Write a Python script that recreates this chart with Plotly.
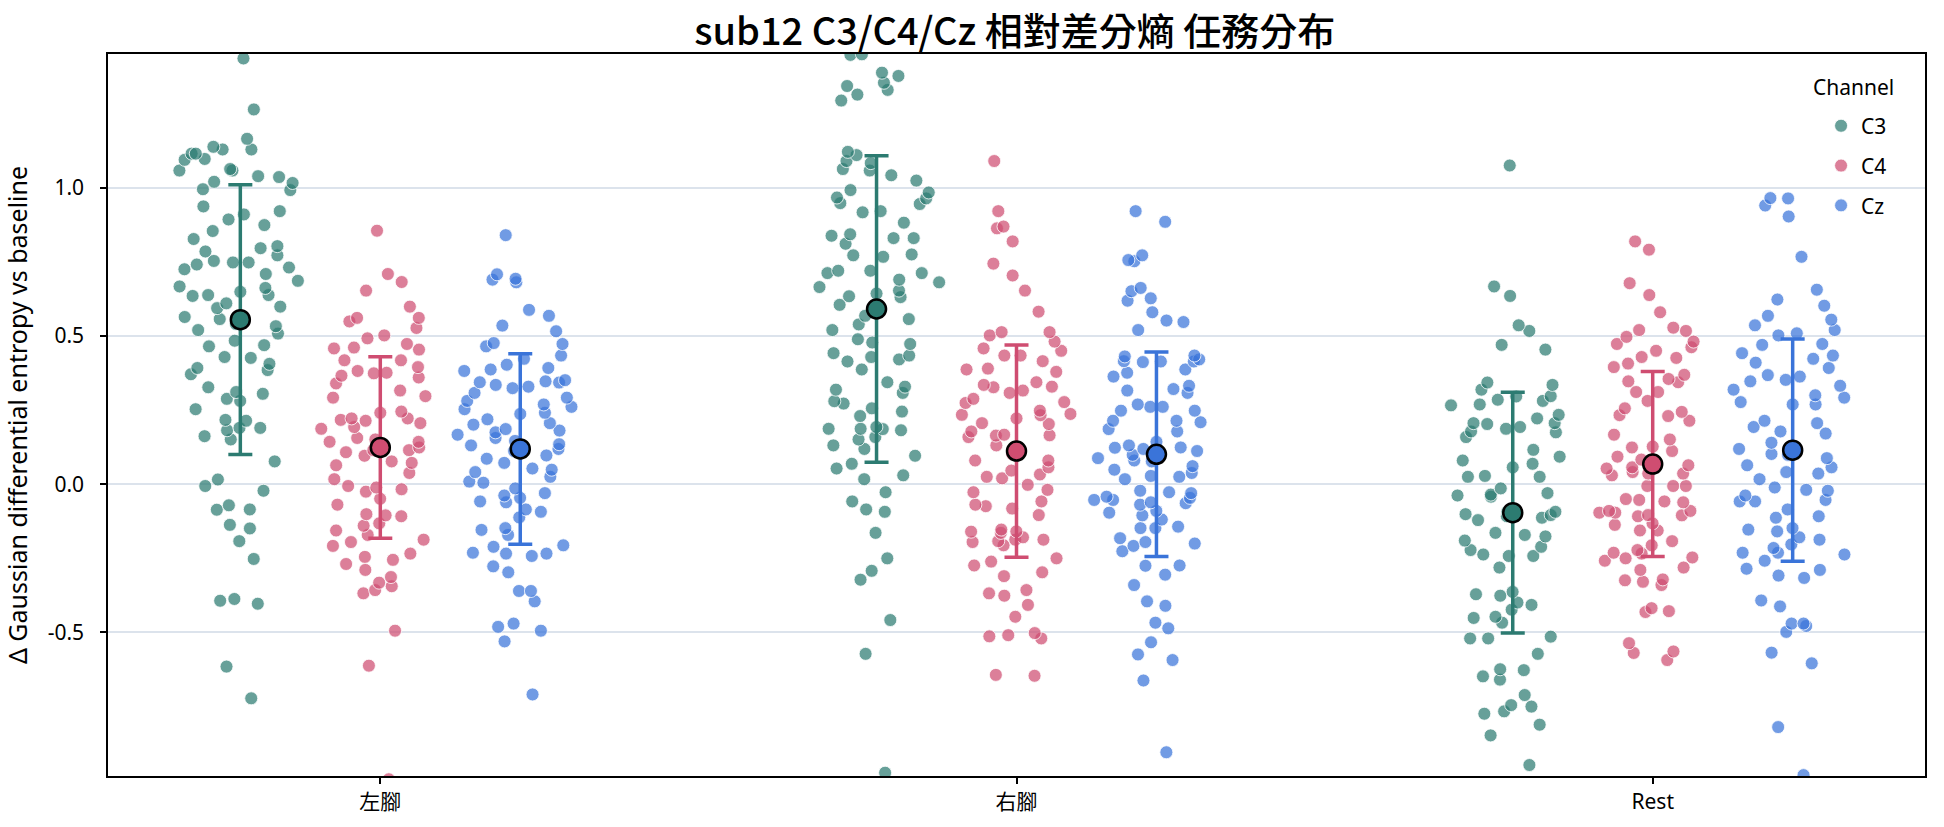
import plotly.graph_objects as go

categories = ["左腳", "右腳", "Rest"]
channels = ["C3", "C4", "Cz"]

c3_left = [1.436, 1.264, 1.165, 1.138, 1.129, 1.129, 1.115, 1.115, 1.097, 1.094, 1.063, 1.058, 1.058,
           1.039, 1.036, 1.020, 1.016, 0.995, 0.992, 0.937, 0.921, 0.910, 0.893, 0.874, 0.854, 0.827,
           0.803, 0.796, 0.785, 0.772, 0.753, 0.748, 0.748, 0.741, 0.731, 0.725, 0.709, 0.686, 0.667,
           0.662, 0.649, 0.638, 0.638, 0.635, 0.610, 0.599, 0.594, 0.564, 0.557, 0.541, 0.533, 0.520,
           0.508, 0.484, 0.469, 0.465, 0.429, 0.426, 0.406, 0.392, 0.385, 0.371, 0.327, 0.311, 0.305,
           0.288, 0.281, 0.253, 0.217, 0.214, 0.190, 0.190, 0.182, 0.162, 0.151, 0.077, 0.016, -0.006,
           -0.022, -0.071, -0.085, -0.086, -0.137, -0.149, -0.192, -0.252, -0.387, -0.393, -0.403,
           -0.615, -0.722]
c4_left = [0.855, 0.709, 0.682, 0.653, 0.599, 0.561, 0.561, 0.549, 0.527, 0.502, 0.492, 0.473, 0.461,
           0.458, 0.454, 0.418, 0.418, 0.395, 0.382, 0.376, 0.374, 0.366, 0.360, 0.340, 0.316, 0.297,
           0.292, 0.245, 0.241, 0.222, 0.222, 0.217, 0.214, 0.206, 0.193, 0.187, 0.156, 0.151, 0.143,
           0.143, 0.124, 0.115, 0.115, 0.108, 0.096, 0.077, 0.072, 0.064, 0.038, 0.017, -0.006, -0.011,
           -0.017, -0.025, -0.049, -0.069, -0.101, -0.105, -0.108, -0.132, -0.140, -0.156, -0.171,
           -0.187, -0.195, -0.208, -0.234, -0.245, -0.255, -0.269, -0.289, -0.313, -0.332, -0.344,
           -0.357, -0.368, -0.494, -0.612, -0.995]
cz_left = [0.840, 0.708, 0.693, 0.690, 0.681, 0.588, 0.568, 0.535, 0.516, 0.476, 0.473, 0.465, 0.434,
           0.423, 0.403, 0.392, 0.387, 0.382, 0.351, 0.347, 0.344, 0.343, 0.335, 0.329, 0.324, 0.308,
           0.292, 0.281, 0.269, 0.261, 0.253, 0.241, 0.237, 0.219, 0.206, 0.201, 0.186, 0.181, 0.175,
           0.167, 0.156, 0.146, 0.135, 0.131, 0.119, 0.112, 0.097, 0.086, 0.072, 0.053, 0.049, 0.041,
           0.025, 0.009, 0.005, -0.014, -0.030, -0.038, -0.046, -0.058, -0.061, -0.085, -0.093, -0.112,
           -0.148, -0.154, -0.171, -0.206, -0.211, -0.231, -0.234, -0.234, -0.242, -0.277, -0.297,
           -0.360, -0.360, -0.395, -0.470, -0.481, -0.494, -0.530, -0.709]

c3_right = [1.450, 1.448, 1.388, 1.377, 1.354, 1.343, 1.330, 1.314, 1.294, 1.121, 1.110, 1.090, 1.083,
            1.063, 1.058, 1.042, 1.024, 0.992, 0.984, 0.967, 0.964, 0.948, 0.945, 0.921, 0.917, 0.882,
            0.843, 0.838, 0.830, 0.830, 0.811, 0.775, 0.772, 0.767, 0.720, 0.720, 0.712, 0.712, 0.690,
            0.681, 0.665, 0.653, 0.643, 0.634, 0.631, 0.605, 0.568, 0.557, 0.539, 0.520, 0.489, 0.478,
            0.473, 0.442, 0.434, 0.429, 0.421, 0.414, 0.387, 0.344, 0.329, 0.319, 0.308, 0.280, 0.272,
            0.256, 0.245, 0.230, 0.193, 0.187, 0.187, 0.186, 0.182, 0.159, 0.151, 0.131, 0.119, 0.096,
            0.069, 0.053, 0.030, 0.017, -0.027, -0.058, -0.085, -0.093, -0.164, -0.250, -0.292, -0.322,
            -0.458, -0.572, -0.973]
c4_right = [1.090, 0.921, 0.869, 0.863, 0.819, 0.744, 0.704, 0.653, 0.582, 0.513, 0.513, 0.502, 0.481,
            0.458, 0.450, 0.434, 0.434, 0.415, 0.390, 0.387, 0.379, 0.344, 0.335, 0.329, 0.327, 0.316,
            0.308, 0.288, 0.277, 0.274, 0.248, 0.237, 0.234, 0.233, 0.222, 0.206, 0.203, 0.178, 0.167,
            0.165, 0.164, 0.159, 0.131, 0.102, 0.080, 0.080, 0.057, 0.046, 0.033, 0.025, 0.020, -0.002,
            -0.019, -0.027, -0.058, -0.069, -0.074, -0.082, -0.104, -0.153, -0.159, -0.160, -0.164,
            -0.179, -0.187, -0.187, -0.192, -0.195, -0.206, -0.250, -0.261, -0.274, -0.297, -0.310,
            -0.357, -0.368, -0.376, -0.407, -0.447, -0.502, -0.509, -0.513, -0.520, -0.643, -0.646]
cz_right = [0.921, 0.885, 0.772, 0.756, 0.752, 0.662, 0.651, 0.627, 0.619, 0.580, 0.552, 0.547, 0.520,
            0.434, 0.431, 0.421, 0.415, 0.414, 0.414, 0.412, 0.387, 0.376, 0.363, 0.332, 0.321, 0.316,
            0.308, 0.269, 0.261, 0.261, 0.248, 0.248, 0.214, 0.214, 0.209, 0.186, 0.178, 0.143, 0.131,
            0.124, 0.123, 0.119, 0.112, 0.099, 0.088, 0.080, 0.077, 0.061, 0.049, 0.038, 0.028, 0.025,
            0.017, -0.022, -0.027, -0.030, -0.042, -0.046, -0.053, -0.053, -0.061, -0.064, -0.069,
            -0.090, -0.096, -0.105, -0.119, -0.143, -0.148, -0.148, -0.182, -0.195, -0.200, -0.208,
            -0.226, -0.274, -0.275, -0.305, -0.340, -0.395, -0.410, -0.467, -0.486, -0.533, -0.574,
            -0.593, -0.662, -0.904]

c3_rest = [1.075, 0.667, 0.635, 0.536, 0.517, 0.470, 0.454, 0.343, 0.335, 0.319, 0.297, 0.296, 0.285,
           0.281, 0.269, 0.266, 0.234, 0.222, 0.206, 0.206, 0.203, 0.193, 0.187, 0.178, 0.175, 0.159,
           0.116, 0.093, 0.080, 0.069, 0.057, 0.028, 0.025, 0.025, -0.014, -0.030, -0.035, -0.038,
           -0.042, -0.093, -0.093, -0.101, -0.104, -0.108, -0.113, -0.121, -0.164, -0.171, -0.176,
           -0.190, -0.211, -0.222, -0.237, -0.242, -0.242, -0.281, -0.363, -0.371, -0.376, -0.399,
           -0.407, -0.423, -0.447, -0.451, -0.467, -0.514, -0.520, -0.520, -0.572, -0.624, -0.627,
           -0.648, -0.659, -0.711, -0.745, -0.750, -0.766, -0.774, -0.811, -0.847, -0.947]
c4_rest = [0.819, 0.791, 0.678, 0.638, 0.580, 0.528, 0.520, 0.517, 0.497, 0.481, 0.473, 0.462, 0.450,
           0.429, 0.426, 0.407, 0.395, 0.369, 0.355, 0.347, 0.344, 0.311, 0.311, 0.281, 0.256, 0.244,
           0.233, 0.230, 0.214, 0.167, 0.151, 0.127, 0.124, 0.112, 0.093, 0.083, 0.064, 0.057, 0.053,
           0.041, 0.036, 0.036, 0.030, -0.006, -0.006, -0.006, -0.050, -0.053, -0.058, -0.061, -0.090,
           -0.090, -0.096, -0.096, -0.104, -0.105, -0.108, -0.132, -0.137, -0.156, -0.156, -0.192,
           -0.206, -0.222, -0.231, -0.234, -0.247, -0.250, -0.258, -0.281, -0.289, -0.321, -0.324,
           -0.329, -0.340, -0.418, -0.428, -0.431, -0.536, -0.564, -0.569, -0.593]
cz_rest = [0.965, 0.964, 0.940, 0.903, 0.767, 0.656, 0.623, 0.602, 0.568, 0.555, 0.536, 0.520, 0.509,
           0.502, 0.473, 0.470, 0.442, 0.434, 0.423, 0.410, 0.392, 0.368, 0.363, 0.352, 0.347, 0.332,
           0.319, 0.300, 0.292, 0.277, 0.269, 0.269, 0.214, 0.206, 0.193, 0.178, 0.171, 0.140, 0.119,
           0.102, 0.099, 0.088, 0.064, 0.057, 0.041, 0.036, 0.017, -0.011, -0.019, -0.022, -0.038,
           -0.053, -0.058, -0.058, -0.085, -0.108, -0.113, -0.148, -0.153, -0.159, -0.179, -0.187,
           -0.203, -0.215, -0.231, -0.231, -0.237, -0.258, -0.285, -0.289, -0.308, -0.316, -0.392,
           -0.412, -0.470, -0.470, -0.478, -0.498, -0.568, -0.604, -0.819, -0.981]

# mean and SD per channel, in category order
c3_mean = [0.555, 0.591, -0.096]
c4_mean = [0.124, 0.112, 0.068]
cz_mean = [0.119, 0.101, 0.115]
c3_sd = [0.455, 0.517, 0.406]
c4_sd = [0.306, 0.358, 0.312]
cz_sd = [0.321, 0.345, 0.375]

y_ticks = [-0.5, 0.0, 0.5, 1.0]
y_tick_labels = ["-0.5", "0.0", "0.5", "1.0"]

series = {
    "C3": ([c3_left, c3_right, c3_rest], c3_mean, c3_sd),
    "C4": ([c4_left, c4_right, c4_rest], c4_mean, c4_sd),
    "Cz": ([cz_left, cz_right, cz_rest], cz_mean, cz_sd),
}
dark = {"C3": "#2c7b71", "C4": "#cf4d71", "Cz": "#3a74d9"}
light = {"C3": "rgba(44,123,113,0.72)", "C4": "rgba(207,77,113,0.72)", "Cz": "rgba(58,116,217,0.72)"}
offsets = {"C3": -0.22, "C4": 0.0, "Cz": 0.22}

FONT = "Noto Sans, Noto Sans CJK TC, sans-serif"

fig = go.Figure()

for ch in channels:
    groups, means, sds = series[ch]
    for ci, vals in enumerate(groups):
        fig.add_trace(go.Box(
            y=vals, x0=ci + offsets[ch], name=ch, legendgroup=ch, showlegend=False,
            boxpoints="all", jitter=1, pointpos=0, width=0.21,
            fillcolor="rgba(0,0,0,0)", line=dict(width=0, color="rgba(0,0,0,0)"),
            whiskerwidth=0,
            marker=dict(color=light[ch], size=13, line=dict(color="white", width=0.8)),
            hoveron="points",
        ))

for ch in channels:
    groups, means, sds = series[ch]
    fig.add_trace(go.Scatter(
        x=[i + offsets[ch] for i in range(len(categories))], y=means,
        mode="markers", showlegend=False, legendgroup=ch,
        error_y=dict(type="data", array=sds, visible=True, color=dark[ch], thickness=3.5, width=12),
        marker=dict(color=dark[ch], size=19, line=dict(color="black", width=2.5)),
    ))

for ch in channels:
    fig.add_trace(go.Scatter(
        x=[None], y=[None], mode="markers", name=ch, legendgroup=ch,
        marker=dict(color=light[ch], size=13, line=dict(color="white", width=0.8)),
    ))

fig.update_layout(
    width=1944, height=827,
    margin=dict(l=108, r=19, t=54, b=51),
    paper_bgcolor="white", plot_bgcolor="white",
    font=dict(family=FONT, size=21, color="black"),
    title=dict(text="sub12 C3/C4/Cz 相對差分熵 任務分布", x=0.522, xanchor="center", y=0.9613, yanchor="middle",
               font=dict(family="Noto Sans CJK TC, Noto Sans, sans-serif", size=38, weight=500)),
    boxmode="overlay",
    showlegend=True,
    legend=dict(
        x=0.9428, xanchor="left", y=0.9285, yanchor="top",
        bgcolor="rgba(0,0,0,0)", borderwidth=0, tracegroupgap=9.5,
        font=dict(size=21),
    ),
    annotations=[dict(text="Channel", x=0.9607, y=0.954, xref="paper", yref="paper",
                      xanchor="center", yanchor="middle", showarrow=False, font=dict(size=21))],
    xaxis=dict(
        range=[-0.428, 2.428], tickvals=[0, 1, 2], ticktext=categories,
        showgrid=False, zeroline=False, showline=True, linecolor="black", linewidth=1.5,
        mirror=True, ticks="outside", ticklen=6, tickwidth=1.5, tickcolor="black",
        automargin=False,
    ),
    yaxis=dict(
        range=[-0.984, 1.451], tickvals=y_ticks, ticktext=y_tick_labels,
        showgrid=True, gridcolor="#dce3ec", gridwidth=1.5, zeroline=False,
        showline=True, linecolor="black", linewidth=1.5, mirror=True,
        ticks="outside", ticklen=6, tickwidth=1.5, tickcolor="black",
        ticklabelstandoff=12, automargin=False,
        title=dict(text="Δ Gaussian differential entropy vs baseline", standoff=18),
    ),
)

fig.write_html("out.html")
